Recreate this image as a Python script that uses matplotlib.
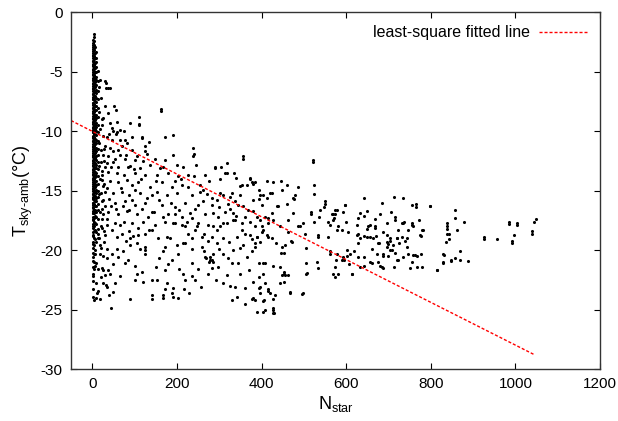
import numpy as np
import matplotlib
matplotlib.use("Agg")
import matplotlib.pyplot as plt

plt.rcParams['font.family'] = ['Liberation Sans', 'DejaVu Sans']
plt.rcParams['mathtext.default'] = 'regular'
plt.rcParams['axes.unicode_minus'] = False

# dense column of points at N_star ~ 0 (one list of temperatures per small N_star value)
col_x = [1, 3, 5, 7, 9, 13]
col_y_a = [-2.6, -2.9, -3.1, -3.4, -3.6, -3.8, -4.1, -4.3, -4.5, -4.8, -5.0, -5.2, -5.5, -5.7, -5.9,
           -6.2, -6.4, -6.6, -6.9, -7.1, -7.3, -7.6, -7.8, -8.0, -8.3, -8.5, -8.7, -9.0, -9.2, -9.4,
           -9.7, -9.9, -10.1, -10.4, -10.6, -10.8, -11.1, -11.3, -11.5, -11.8, -12.0, -12.2, -12.5,
           -12.7, -12.9, -13.2, -13.4, -13.6, -13.9, -14.1, -14.3, -14.6, -14.8, -15.0, -15.3, -15.5,
           -15.7, -16.0, -16.2, -16.4, -16.7, -16.9, -17.2, -17.5, -17.8, -18.1, -18.5, -18.8, -19.3,
           -19.8, -20.2, -20.9, -21.4, -22.0, -22.6, -23.3, -23.9]
col_y_e = [-2.3, -2.75, -3.25, -3.65, -4.05, -4.45, -4.85, -5.25, -5.65, -6.05, -6.45, -6.85, -7.25,
           -7.65, -8.05, -8.45, -8.85, -9.25, -9.65, -10.05, -10.45, -10.85, -11.25, -11.65, -12.05,
           -12.45, -12.85, -13.25, -13.65, -14.05, -14.45, -14.85, -15.25, -15.65, -16.05, -16.45,
           -16.85, -17.4, -17.95, -18.7, -19.5, -20.6, -22.2]
col_y_b = [-1.8, -2.1, -2.4, -2.7, -3.0, -3.2, -3.5, -3.7, -3.9, -4.2, -4.4, -4.6, -4.9, -5.1, -5.3,
           -5.6, -5.8, -6.0, -6.3, -6.5, -6.7, -7.0, -7.2, -7.4, -7.7, -7.9, -8.1, -8.4, -8.6, -8.8,
           -9.1, -9.3, -9.5, -9.8, -10.0, -10.2, -10.5, -10.7, -10.9, -11.2, -11.4, -11.6, -11.9,
           -12.1, -12.3, -12.6, -12.8, -13.0, -13.3, -13.5, -13.7, -14.0, -14.2, -14.4, -14.7, -14.9,
           -15.1, -15.4, -15.6, -15.8, -16.1, -16.3, -16.6, -16.9, -17.3, -17.6, -18.0, -18.4, -19.0,
           -19.6, -20.3, -21.0, -21.6]
col_y_f = [-2.9, -3.45, -3.85, -4.25, -4.65, -5.05, -5.45, -5.85, -6.25, -6.65, -7.05, -7.45, -7.85,
           -8.25, -8.65, -9.05, -9.45, -9.85, -10.25, -10.65, -11.05, -11.45, -11.85, -12.25, -12.65,
           -13.05, -13.45, -13.85, -14.25, -14.65, -15.05, -15.45, -15.85, -16.25, -16.65, -17.1,
           -17.7, -18.3, -19.1, -20.0, -21.3]
col_y_c = [-3.3, -3.8, -4.2, -4.6, -5.0, -5.4, -5.7, -6.1, -6.5, -6.8, -7.2, -7.5, -7.9, -8.2, -8.6,
           -8.9, -9.3, -9.6, -10.0, -10.3, -10.7, -11.0, -11.4, -11.7, -12.1, -12.4, -12.8, -13.1,
           -13.5, -13.8, -14.2, -14.5, -14.9, -15.2, -15.6, -15.9, -16.3, -16.8, -17.2, -17.8, -18.5,
           -19.3]
col_y_d = [-4.9, -5.8, -6.6, -7.3, -8.0, -8.8, -9.5, -10.1, -10.8, -11.5, -12.0, -12.6, -13.2, -13.8,
           -14.4, -15.0, -15.5, -16.1, -16.6, -17.4, -18.2, -19.0]

# (N_star, T_sky-amb) pairs
edge_pts = [(17, -6.3), (20, -7.2), (16, -8.4), (22, -9.0), (18, -9.8), (25, -10.4), (17, -11.0),
            (21, -11.6), (28, -12.5), (16, -12.9), (23, -13.3), (19, -14.0), (26, -14.6), (17, -15.3),
            (22, -15.9), (30, -16.3), (18, -16.8), (24, -17.4), (20, -18.0), (27, -18.4), (16, -19.0),
            (21, -19.8), (25, -20.5), (13, -21.6), (20, -22.3), (8, -22.8), (12, -23.6), (4, -24.2),
            (10, -21.1), (26, -21.7), (32, -22.9), (7, -20.3), (30, -5.8), (33, -6.4), (38, -6.4)]

near_pts = [(32, -5.9), (42, -6.4), (18, -5.7), (52, -7.9), (111, -8.8), (111, -9.4), (89, -9.3),
            (46, -9.7), (58, -10.1), (66, -10.7), (93, -10.5), (117, -10.5), (135, -10.9), (129, -11.9),
            (70, -11.2), (105, -12.1), (137, -12.8), (55, -8.2), (30, -7.9), (38, -8.5), (26, -8.9),
            (42, -9.3), (58, -9.2), (110, -9.5), (50, -10.0), (55, -10.2), (74, -10.0), (34, -10.5),
            (46, -10.7), (78, -10.7), (83, -11.0), (117, -10.6), (125, -11.2), (30, -11.2), (42, -11.4),
            (62, -11.6), (93, -11.6), (125, -11.7), (26, -12.0), (38, -12.1), (54, -12.3), (78, -12.3),
            (101, -12.4), (85, -13.0), (62, -13.0), (30, -13.0), (113, -13.1), (38, -13.4), (58, -13.5),
            (74, -13.7), (101, -13.5), (125, -13.7), (22, -14.1), (42, -14.2), (62, -14.3), (82, -14.1),
            (93, -14.5), (109, -14.3), (137, -14.7), (30, -15.1), (50, -15.2), (70, -15.1), (86, -15.4),
            (113, -15.2), (26, -15.8), (54, -16.0), (78, -15.9), (101, -16.2), (125, -16.0), (22, -16.5),
            (38, -16.8), (62, -17.0), (82, -16.7), (105, -17.0), (34, -17.4), (54, -17.7), (74, -17.6),
            (93, -17.7), (121, -17.6), (22, -18.1), (46, -18.3), (86, -18.4), (109, -18.1), (133, -18.3),
            (14, -18.6), (30, -18.7), (58, -18.9), (70, -18.6), (89, -19.0), (109, -18.7), (125, -18.6),
            (125, -19.7), (105, -19.4), (89, -19.6), (18, -19.6), (18, -20.3), (34, -20.7), (38, -21.7),
            (42, -22.0), (30, -22.1), (46, -20.3), (58, -19.9), (78, -21.1), (101, -21.3), (105, -22.0),
            (101, -22.5), (121, -22.7), (117, -21.8), (125, -20.3), (125, -20.0), (14, -23.4), (18, -24.1),
            (40, -23.8), (44, -24.9), (89, -24.1), (66, -22.2), (54, -22.8), (34, -23.1),
            (20, -12.6), (24, -13.7), (28, -14.4), (35, -14.8), (45, -13.0), (48, -12.6), (65, -12.0),
            (68, -14.8), (72, -16.3), (88, -16.6), (95, -15.8), (98, -13.2), (102, -14.9), (115, -14.0),
            (118, -16.5), (130, -15.6), (132, -17.2), (40, -15.7), (44, -16.3), (57, -16.5), (66, -17.9),
            (80, -19.2), (96, -18.8), (112, -19.9), (28, -19.3), (36, -19.9), (50, -21.2), (62, -20.6),
            (72, -20.1), (85, -20.8), (24, -21.5), (26, -22.8), (48, -23.5), (10, -24.0), (36, -17.9),
            (26, -17.0), (20, -15.2), (34, -12.7), (50, -11.7), (80, -12.0), (90, -12.9), (120, -12.5),
            (66, -9.9), (40, -10.2), (24, -9.5), (28, -11.5)]

mid_pts = [(163, -8.1), (163, -8.3), (190, -10.3), (173, -10.5), (239, -11.4), (237, -12.1), (192, -12.0),
           (290, -13.0), (318, -12.7), (357, -12.1), (357, -12.3), (373, -13.9), (353, -14.5), (160, -13.1),
           (152, -13.7), (180, -13.5), (215, -13.0), (196, -14.2), (227, -14.7), (255, -14.5), (262, -14.9),
           (302, -15.2), (330, -15.2), (314, -13.5), (290, -13.1), (241, -11.9), (148, -12.3), (172, -12.4),
           (200, -12.8), (168, -13.0), (203, -13.8), (227, -13.7), (241, -13.8), (267, -13.7), (164, -14.3),
           (188, -14.7), (211, -14.5), (141, -15.4), (152, -15.1), (176, -15.4), (200, -15.2), (235, -15.4),
           (255, -15.1), (282, -15.6), (164, -16.2), (195, -16.4), (219, -16.0), (243, -16.5), (141, -16.8),
           (180, -17.0), (211, -17.2), (235, -17.3), (267, -17.0), (148, -17.9), (172, -17.6), (195, -17.7),
           (219, -18.0), (251, -17.7), (274, -17.9), (141, -18.3), (156, -19.0), (176, -18.9), (192, -17.7),
           (211, -17.9), (227, -18.6), (243, -18.3), (259, -18.9), (274, -19.2), (219, -19.4), (200, -19.6),
           (172, -19.7), (152, -22.5), (141, -22.5), (176, -22.8), (192, -23.2), (172, -21.7), (188, -20.8),
           (168, -20.1), (203, -20.3), (215, -22.0), (219, -22.5), (235, -21.1), (235, -22.2), (243, -22.5),
           (141, -23.8), (141, -24.1), (168, -23.8), (168, -24.0), (189, -23.6), (192, -23.9), (203, -24.0),
           (217, -23.3), (172, -23.3), (274, -22.0), (267, -20.6), (278, -20.8), (259, -19.7), (263, -20.1),
           (235, -19.9), (270, -20.7), (282, -20.8), (275, -21.0), (285, -21.0), (278, -20.6), (145, -16.8),
           (168, -17.2), (196, -17.0), (223, -17.6), (247, -18.0), (263, -18.6), (235, -19.0), (215, -19.4),
           (184, -19.0), (294, -18.3), (310, -17.7), (333, -17.5), (353, -18.3), (373, -18.7), (389, -18.9),
           (318, -13.5), (334, -13.5), (302, -14.0), (373, -14.0), (377, -14.3), (385, -14.3), (365, -14.5),
           (349, -14.6), (414, -14.2), (428, -14.3), (445, -14.2), (461, -14.5), (487, -14.7), (497, -23.6),
           (467, -23.6), (428, -24.1), (406, -24.2), (428, -24.9), (430, -25.3), (404, -25.2), (389, -25.2),
           (377, -24.1), (380, -24.0), (341, -23.9), (330, -24.2), (310, -22.8), (337, -23.1), (361, -23.2),
           (397, -23.1), (416, -23.4), (444, -22.8), (456, -22.1), (449, -22.1), (404, -21.1), (428, -21.3),
           (444, -21.4), (371, -21.7), (349, -22.0), (318, -22.1), (330, -21.1), (298, -21.4), (282, -21.5),
           (286, -20.3), (310, -20.3), (333, -20.0), (357, -19.6), (385, -19.7), (397, -19.3), (448, -19.7),
           (416, -18.9), (286, -16.9), (298, -17.2), (314, -16.8), (326, -16.5), (333, -16.9), (345, -16.2),
           (357, -16.3), (369, -16.6), (326, -15.5), (337, -15.9), (310, -15.4), (294, -15.8), (282, -16.2),
           (349, -15.4), (381, -15.8), (400, -16.2), (412, -15.6), (424, -15.2), (393, -14.9), (397, -15.4),
           (436, -16.3), (424, -16.9), (416, -17.3), (389, -17.2), (373, -17.6), (353, -17.7), (337, -17.5),
           (318, -17.7), (302, -18.0), (286, -18.0), (310, -19.0), (322, -19.3), (341, -18.9), (361, -18.6),
           (377, -19.1), (349, -19.8), (294, -19.4), (282, -18.9), (400, -18.0), (404, -18.3), (475, -16.9),
           (463, -17.5), (479, -15.4), (477, -15.7), (491, -18.0), (381, -14.4), (448, -14.9), (475, -15.6),
           (404, -15.4), (393, -15.7), (420, -15.2), (461, -16.1), (440, -16.3), (499, -17.7), (470, -19.2),
           (471, -19.3), (452, -20.2), (445, -20.2), (456, -19.6), (487, -18.0), (463, -18.5), (444, -18.0),
           (428, -17.5), (416, -17.7), (408, -17.2), (397, -17.5), (385, -18.0), (390, -18.9), (385, -19.4),
           (377, -20.1), (400, -18.5), (412, -18.7), (424, -19.0), (434, -19.4), (408, -21.1), (452, -21.8),
           (452, -22.0), (463, -22.1), (452, -22.7), (467, -23.5), (495, -23.7), (381, -22.7), (393, -23.2),
           (397, -23.6), (416, -23.3), (419, -23.6), (432, -23.8), (385, -24.2), (404, -24.3), (408, -25.0),
           (428, -25.0), (428, -25.3), (404, -22.0), (393, -22.3), (408, -22.8), (393, -21.1),
           (150, -14.2), (158, -15.8), (185, -16.0), (205, -16.6), (230, -16.9), (250, -16.2), (262, -15.9),
           (272, -15.3), (300, -16.4), (320, -16.1), (340, -17.1), (360, -17.2), (380, -16.7), (300, -19.9),
           (320, -20.7), (345, -21.1), (365, -20.6), (250, -21.6), (258, -23.1), (228, -23.6), (158, -20.7),
           (150, -21.4), (180, -21.2), (205, -21.6), (292, -22.5), (325, -23.0), (360, -24.5), (210, -14.0),
           (245, -12.8), (275, -14.2), (305, -13.0), (340, -13.9)]

far_pts = [(521, -12.4), (521, -12.6), (523, -14.5), (523, -15.3), (641, -15.6), (712, -15.5), (735, -15.6),
           (684, -16.0), (755, -16.2), (765, -16.1), (797, -16.3), (550, -16.1), (548, -16.4), (598, -16.2),
           (578, -16.6), (568, -17.0), (572, -17.3), (599, -17.6), (518, -16.8), (517, -17.0), (537, -17.2),
           (523, -17.6), (558, -17.6), (562, -17.9), (580, -18.0), (534, -18.7), (503, -18.6), (505, -19.8),
           (562, -20.3), (579, -20.3), (601, -20.0), (590, -20.8), (593, -20.6), (609, -20.3), (625, -18.7),
           (627, -19.4), (633, -19.0), (649, -18.9), (629, -20.6), (633, -21.4), (613, -22.0), (641, -21.3),
           (656, -21.0), (676, -21.0), (684, -21.4), (688, -20.3), (696, -19.7), (704, -19.2), (708, -20.0),
           (720, -19.0), (724, -19.4), (731, -17.7), (737, -17.6), (731, -18.9), (739, -19.2), (743, -19.7),
           (747, -20.3), (735, -20.6), (720, -20.8), (712, -21.4), (755, -21.0), (763, -20.4), (776, -20.3),
           (779, -21.4), (775, -18.7), (779, -18.3), (755, -17.7), (759, -18.0), (696, -17.7), (716, -17.5),
           (688, -18.5), (696, -19.3), (672, -20.3), (676, -19.4), (668, -18.0), (656, -17.9), (650, -18.2),
           (663, -19.0), (830, -20.3), (828, -21.0), (814, -21.7), (838, -17.7), (839, -18.0), (838, -18.6),
           (836, -19.3), (505, -21.1), (507, -21.9), (550, -15.9), (538, -16.6), (574, -17.0), (570, -17.5),
           (578, -18.3), (534, -18.9), (558, -18.9), (562, -20.1), (576, -20.8), (530, -21.0), (534, -21.5),
           (568, -22.0), (505, -22.0), (574, -16.6), (597, -16.2), (566, -17.0), (593, -16.8), (633, -16.9),
           (650, -16.7), (629, -17.3), (641, -17.1), (668, -17.4), (681, -17.0), (705, -16.8), (716, -17.2),
           (735, -17.7), (755, -17.9), (773, -17.5), (625, -17.9), (652, -18.0), (668, -18.1), (723, -18.3),
           (745, -18.3), (781, -18.3), (590, -18.3), (605, -18.5), (629, -18.6), (641, -18.8), (656, -18.9),
           (670, -18.8), (696, -18.7), (704, -19.0), (719, -19.0), (743, -19.0), (776, -18.8), (700, -19.5),
           (710, -19.6), (703, -20.0), (716, -20.2), (700, -20.5), (723, -20.8), (757, -20.4), (768, -20.5),
           (660, -19.9), (678, -19.4), (688, -20.5), (752, -21.5), (768, -21.4), (680, -21.3), (688, -21.5),
           (660, -21.1), (641, -20.6), (618, -20.1), (602, -20.5), (594, -20.8), (606, -21.2), (574, -21.4),
           (581, -22.0), (574, -22.3), (614, -22.0), (815, -21.7), (765, -16.4), (857, -16.6), (857, -17.3),
           (839, -18.2), (842, -18.6), (842, -19.1), (861, -18.3), (879, -17.6), (831, -20.4), (828, -21.1),
           (847, -20.8), (857, -20.7), (869, -20.1), (869, -20.8), (889, -20.9), (926, -18.9), (926, -19.1),
           (957, -19.1), (985, -17.6), (985, -17.8), (1003, -17.7), (1003, -17.9), (991, -19.2), (991, -19.4),
           (997, -18.7), (1038, -18.4), (1038, -18.6), (1044, -17.6), (1048, -17.4), (798, -16.3), (848, -20.9)]

# least-square fitted line end points
fit_x = [-50, 1045]
fit_y = [-9.1, -28.8]

xs, ys = [], []
for x, lane in zip(col_x, [col_y_a, col_y_e, col_y_b, col_y_f, col_y_c, col_y_d]):
    xs += [x] * len(lane)
    ys += lane
for pts in (edge_pts, near_pts, mid_pts, far_pts):
    xs += [p[0] for p in pts]
    ys += [p[1] for p in pts]

fig = plt.figure(figsize=(6.18, 4.21), dpi=100)
ax = fig.add_axes([0.115, 0.1235, 0.856, 0.847])

ax.scatter(xs, ys, s=5.0, marker='o', c='black', linewidths=0)
ax.plot(fit_x, fit_y, color='red', lw=1.0, dashes=(2.2, 1.4), label='least-square fitted line')

ax.set_xlim(-50, 1200)
ax.set_ylim(-30, 0)
ax.set_xticks([0, 200, 400, 600, 800, 1000, 1200])
ax.set_yticks([-30, -25, -20, -15, -10, -5, 0])
ax.tick_params(direction='in', top=True, right=True, length=4, width=0.8, labelsize=11, pad=6)
for sp in ax.spines.values():
    sp.set_color('#333333')
    sp.set_linewidth(1.0)

ax.set_xlabel('N$_{star}$', fontsize=13, labelpad=2)
ax.set_ylabel('T$_{sky\u2010amb}$(°C)', fontsize=13, labelpad=4)

ax.legend(loc='upper right', frameon=False, markerfirst=False, fontsize=11.5,
          handlelength=3.0, borderaxespad=0.4, handletextpad=0.6)

fig.savefig('out.png', dpi=100)
